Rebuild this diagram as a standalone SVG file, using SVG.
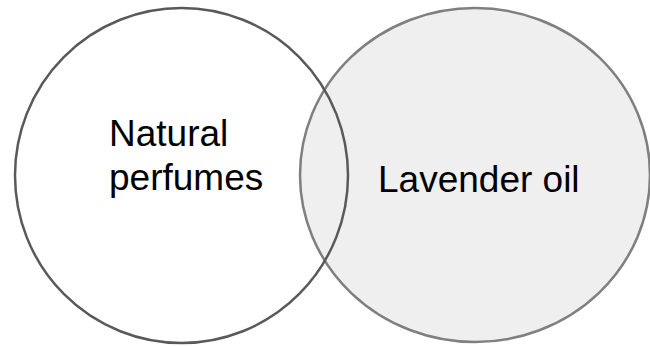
<svg xmlns="http://www.w3.org/2000/svg" width="650" height="346" viewBox="0 0 650 346">
<style>
.lbl{font-family:"Liberation Sans",Arial,sans-serif;font-size:37px;fill:#000}
</style>
<rect width="650" height="346" fill="#fff"/>
<g id="lavender-oil">
<ellipse cx="475" cy="175" rx="175" ry="167" fill="#efefef" stroke="#7f7f7f" stroke-width="2.5"/>
<text class="lbl" x="378" y="192">Lavender oil</text>
</g>
<g id="natural-perfumes">
<ellipse cx="181.5" cy="175.5" rx="166.5" ry="167.5" fill="none" stroke="#595959" stroke-width="2.5"/>
<text class="lbl" x="109" y="146">Natural</text>
<text class="lbl" x="109" y="190">perfumes</text>
</g>
<g id="connectors"/>
</svg>
